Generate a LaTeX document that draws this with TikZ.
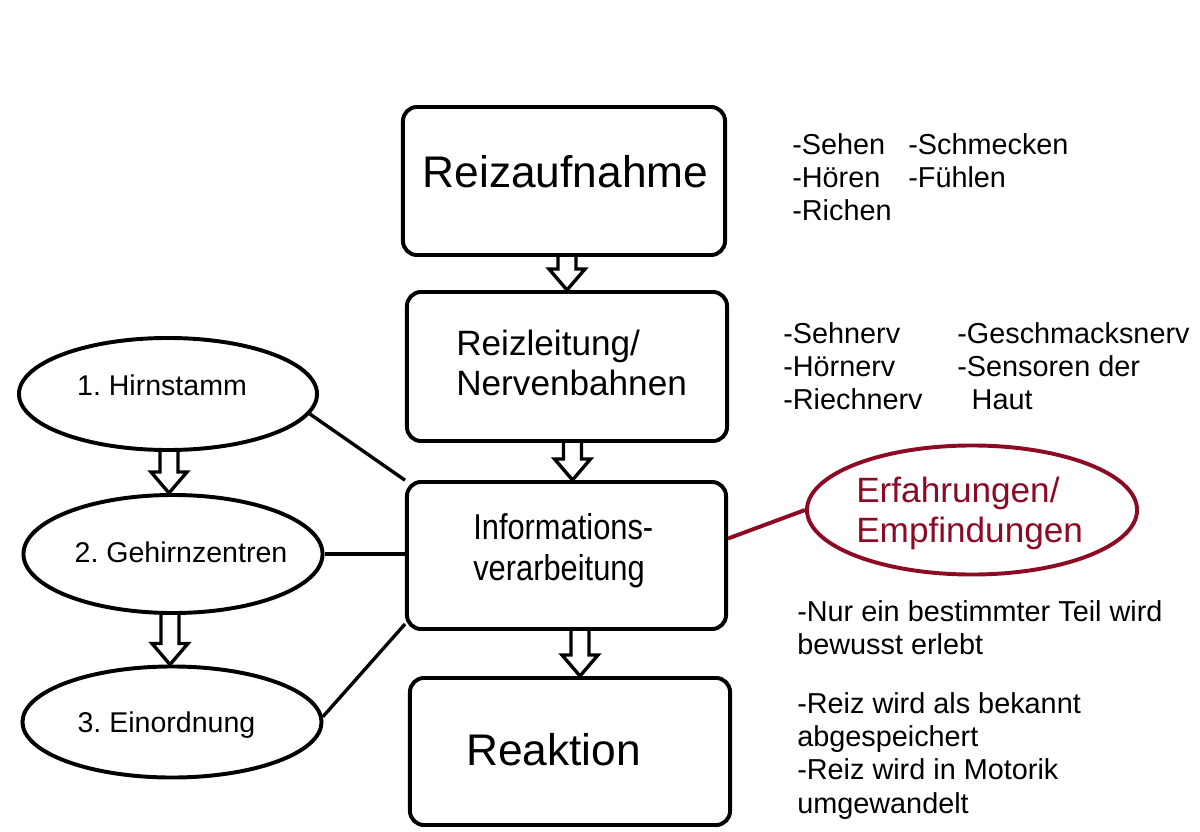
\documentclass[tikz,border=0pt]{standalone}
\usepackage{fontspec}
\setmainfont{Liberation Sans}
\newfontfamily\schmal[FakeStretch=0.86]{Liberation Sans}
\usetikzlibrary{calc,shapes.geometric}
\definecolor{erfrot}{RGB}{140,10,35}
\frenchspacing
% hollow block arrow from node #2 to node #3, #1 = x offset
\newcommand{\hohlpfeil}[3][0]{%
	\draw[hohl] ($(#2.south -| #3.north)+(#1-9,0)$) -- ($(#3.north)+(#1-9,-21)$) -- ++(-9,0)
	-- ($(#3.north)+(#1,0)$) -- ($(#3.north)+(#1+18,-21)$) -- ++(-9,0) -- ($(#2.south -| #3.north)+(#1+9,0)$);}
\begin{document}
\begin{tikzpicture}[x=0.025cm,y=-0.025cm,
	box/.style={draw,line width=2.8pt,rounded corners=10pt,inner sep=0pt},
	oval/.style={ellipse,draw,line width=2.8pt,inner sep=0pt},
	hohl/.style={line width=2.4pt,line join=miter},
	link/.style={line width=2.4pt},
	gross/.style={font=\fontsize{31.5}{38}\selectfont,inner sep=0pt},
	mittel/.style={font=\fontsize{25}{28.5}\selectfont,align=left,inner sep=0pt,anchor=north west},
	klein/.style={font=\fontsize{20.5}{23.7}\selectfont,align=left,inner sep=0pt,anchor=north west},
	oval text/.style={font=\fontsize{20.3}{24}\selectfont,inner sep=0pt,anchor=base}]
	\useasboundingbox (0,0) rectangle (1200,832);
	% main column
	\node[box,minimum width=8.05cm,minimum height=3.7cm] (auf) at (564,181) {};
	\node[box,minimum width=8cm,minimum height=3.725cm] (lei) at (567,366.5) {};
	\node[box,minimum width=7.975cm,minimum height=3.675cm] (inf) at (566.5,555.5) {};
	\node[box,minimum width=8cm,minimum height=3.675cm] (rea) at (570,751.5) {};
	\node[gross,anchor=base] (tauf) at (565.5,188) {Reizaufnahme};
	\node[mittel] (tlei) at (456,329.5) {Reizleitung/\\Nervenbahnen};
	\node[mittel,font=\schmal\fontsize{25.5}{29}\selectfont] (tinf) at (473,513) {Informations-\\verarbeitung};
	\node[gross,anchor=base] (trea) at (553.5,765) {Reaktion};
	\hohlpfeil{auf}{lei}
	\hohlpfeil[6]{lei}{inf}
	\hohlpfeil[10]{inf}{rea}
	% left column
	\node[oval,minimum width=7.45cm,minimum height=2.8cm] (hirn) at (168,394) {};
	\node[oval,minimum width=7.475cm,minimum height=2.95cm] (geh) at (173,554) {};
	\node[oval,minimum width=7.475cm,minimum height=2.775cm] (ein) at (172,722) {};
	\node[oval text] (thirn) at (162,395) {1. Hirnstamm};
	\node[oval text] (tgeh) at (181,562) {2. Gehirnzentren};
	\node[oval text] (tein) at (166.5,732) {3. Einordnung};
	\hohlpfeil[-4]{hirn}{geh}
	\hohlpfeil[-2]{geh}{ein}
	\draw[link] (hirn.-8) -- (inf.155);
	\draw[link] (geh.east) -- (geh.east -| inf.west);
	\draw[link] (ein.2) -- (inf.203);
	% red ellipse
	\node[oval,draw=erfrot,minimum width=8.25cm,minimum height=3.225cm] (erf) at (972,510) {};
	\node[mittel,text=erfrot] (terf) at (856,476.5) {Erfahrungen/\\Empfindungen};
	\draw[link,draw=erfrot,line width=2.8pt] (inf.6) -- (erf.west);
	% notes
	\node[klein] (sinne1) at (792,133) {-Sehen\\-Hören\\-Richen};
	\node[klein] (sinne2) at (908,133) {-Schmecken\\-Fühlen};
	\node[klein] (nerv1) at (783,322) {-Sehnerv\\-Hörnerv\\-Riechnerv};
	\node[klein] (nerv2) at (957,322) {-Geschmacksnerv\\-Sensoren der\\\hspace{0.5em}Haut};
	\node[klein] (bewusst) at (797,600) {-Nur ein bestimmter Teil wird\\bewusst erlebt};
	\node[klein] (reiz) at (797,692) {-Reiz wird als bekannt\\abgespeichert\\-Reiz wird in Motorik\\umgewandelt};
\end{tikzpicture}
\end{document}
